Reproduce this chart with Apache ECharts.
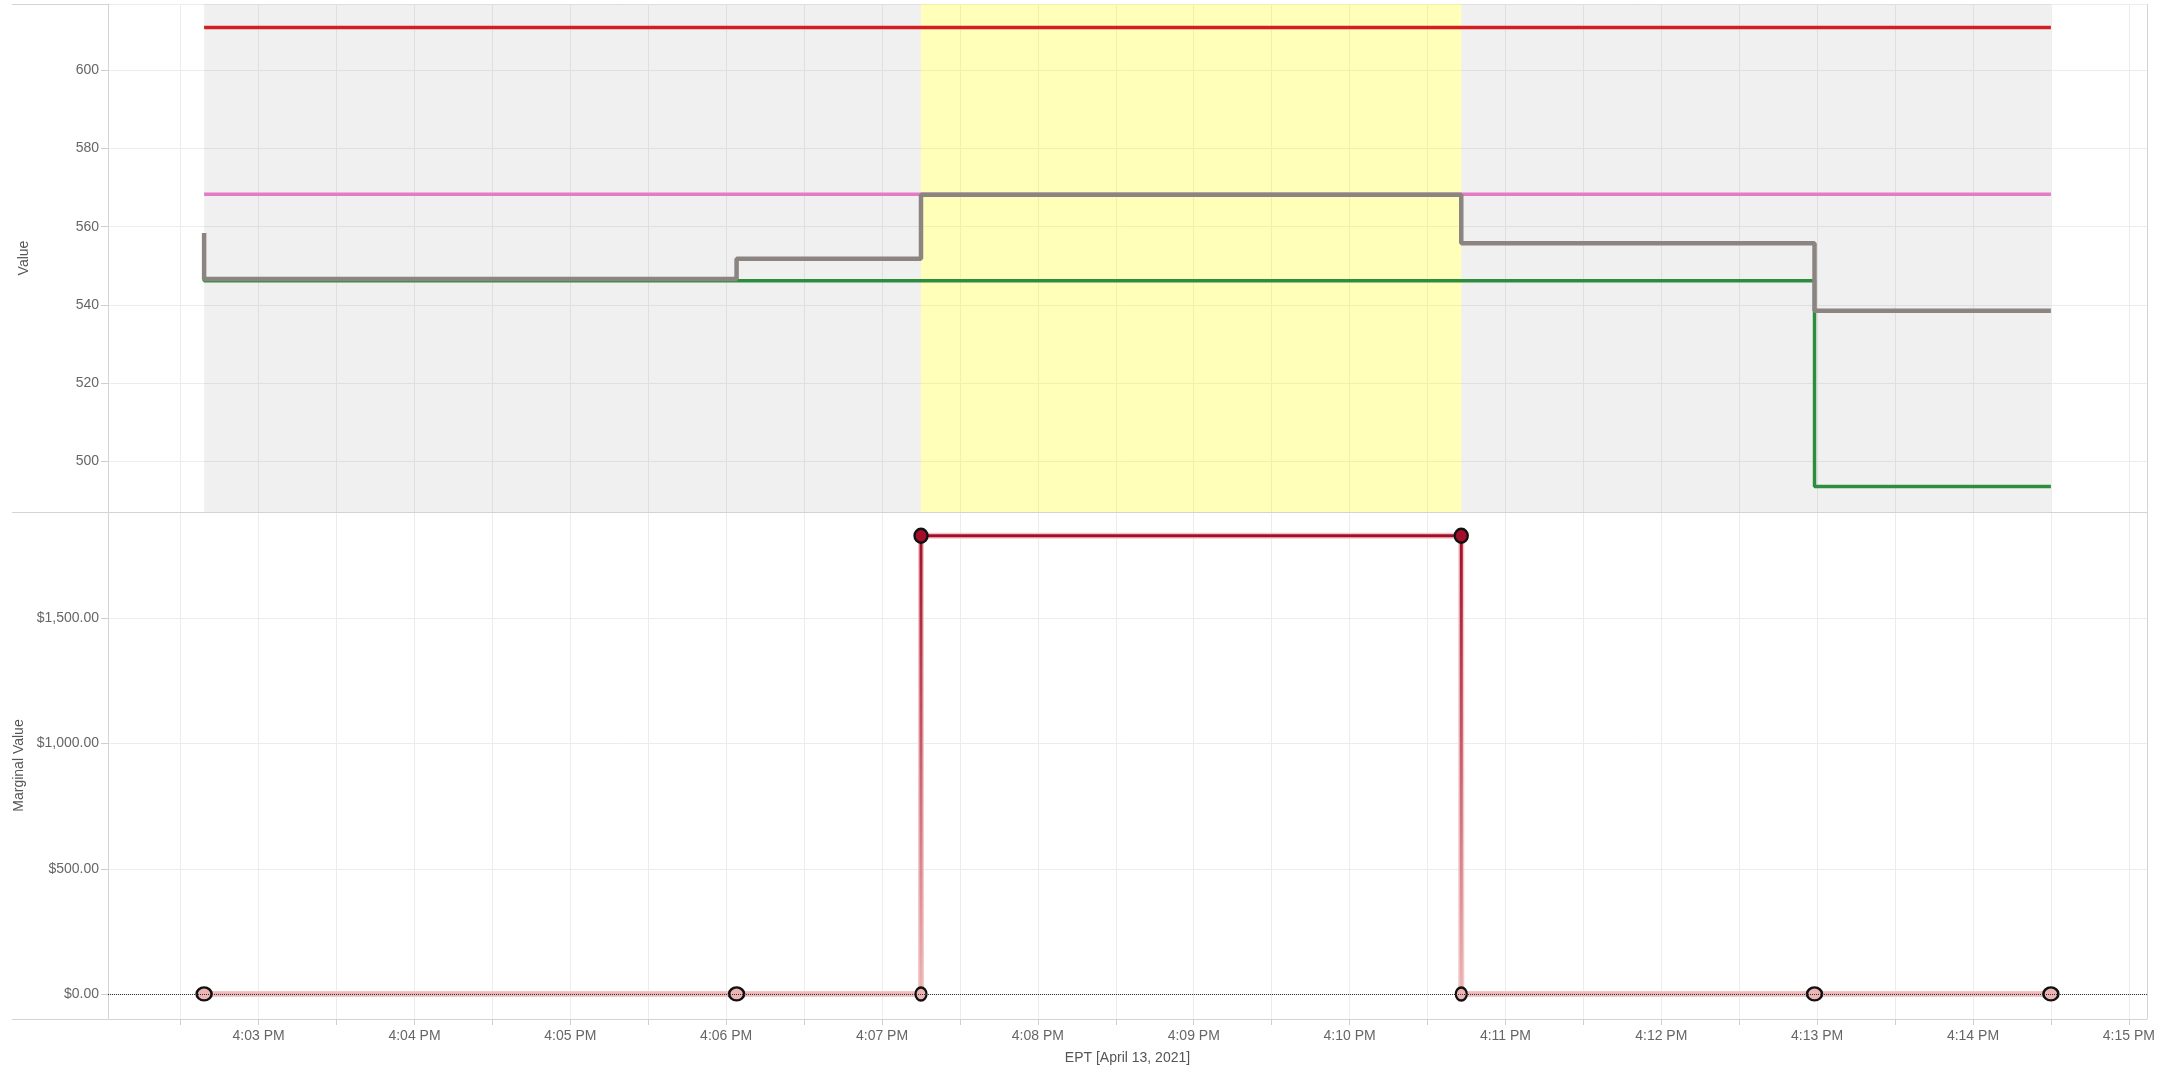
<!DOCTYPE html>
<html><head><meta charset="utf-8">
<script src="https://cdn.jsdelivr.net/npm/echarts@6/dist/echarts.min.js"></script>
<style>html,body{margin:0;padding:0;background:#fff}#c{width:2159px;height:1070px}</style>
</head><body><div id="c"></div>
<script>
// ---------- data ----------
const DAY = '2021-04-13 ';
const times = ['16:02:39', '16:06:04', '16:07:15', '16:10:43', '16:12:59', '16:14:30'];
const xRange = ['16:02:02', '16:15:07'];
const upperLimit = [611, 611, 611, 611, 611, 611];
const targetLevel = [568.3, 568.3, 568.3, 568.3, 568.3, 568.3];
const greenValues = [551.9, 546.2, 546.2, 546.2, 546.2, 493.5];
const grayValues = [558.4, 546.6, 551.8, 568.2, 555.8, 538.5];
const mvTimes = ['16:02:39', '16:06:04', '16:07:15', '16:07:15', '16:10:43', '16:10:43', '16:12:59', '16:14:30'];
const mvValues = [0, 0, 0, 1830, 1830, 0, 0, 0];
const valueRange = [487, 617];
const mvRange = [-100, 1925];
const xTickTimes = ['16:02:30', '16:03:00', '16:03:30', '16:04:00', '16:04:30', '16:05:00', '16:05:30',
  '16:06:00', '16:06:30', '16:07:00', '16:07:30', '16:08:00', '16:08:30', '16:09:00', '16:09:30',
  '16:10:00', '16:10:30', '16:11:00', '16:11:30', '16:12:00', '16:12:30', '16:13:00', '16:13:30',
  '16:14:00', '16:14:30', '16:15:00'];
const xLabelTimes = ['16:03:00', '16:04:00', '16:05:00', '16:06:00', '16:07:00', '16:08:00', '16:09:00',
  '16:10:00', '16:11:00', '16:12:00', '16:13:00', '16:14:00', '16:15:00'];
const xAxisTitle = 'EPT [April 13, 2021]';
const topTitle = 'Value';
const bottomTitle = 'Marginal Value';

// ---------- helpers ----------
const T = s => +echarts.number.parseDate(DAY + s);
const pairs = (ts, vs) => ts.map((t, i) => [T(t), vs[i]]);
const FONT = "'Liberation Sans', Arial, sans-serif";
const GL = 108, GRr = 12, TOP1 = 4, H1 = 508, TOP2 = 512, H2 = 507;
const RIGHT_X = 2159 - GRr;

function timeLabel(v) {
  const d = new Date(v);
  if (d.getSeconds() !== 0 || d.getMilliseconds() !== 0) return '';
  const h = d.getHours() % 12 || 12;
  const m = String(d.getMinutes()).padStart(2, '0');
  return h + ':' + m + ' ' + (d.getHours() < 12 ? 'AM' : 'PM');
}
function money(v) {
  return '$' + v.toFixed(2).replace(/\B(?=(\d{3})+(?!\d))/g, ',');
}

const gridLineColor = '#ececec';
const axisLineColor = '#d4d4d4';
const tickVals = xTickTimes.map(T);
const labelVals = xLabelTimes.map(T);

function xAxisBase(gridIndex, showLabels) {
  return {
    type: 'value', gridIndex, scale: true,
    min: T(xRange[0]), max: T(xRange[1]),
    splitLine: { show: true, lineStyle: { color: gridLineColor, width: 1 }, customValues: tickVals },
    axisLine: { show: true, onZero: false, lineStyle: { color: axisLineColor, width: 1 } },
    axisTick: { show: true, length: showLabels ? 6 : 0, lineStyle: { color: '#cfcfcf' }, customValues: tickVals },
    axisLabel: {
      show: showLabels, formatter: timeLabel, color: '#666', fontSize: 14,
      fontFamily: FONT, margin: 10, customValues: labelVals
    },
    name: showLabels ? xAxisTitle : '',
    nameLocation: 'middle', nameGap: 32,
    nameTextStyle: { color: '#555', fontSize: 14, fontFamily: FONT }
  };
}

const option = {
  animation: false,
  backgroundColor: '#fff',
  grid: [
    { left: GL, right: GRr, top: TOP1, height: H1 },
    { left: GL, right: GRr, top: TOP2, height: H2 }
  ],
  xAxis: [xAxisBase(0, false), xAxisBase(1, true)],
  yAxis: [
    {
      type: 'value', gridIndex: 0, min: valueRange[0], max: valueRange[1], splitNumber: 6,
      name: topTitle, nameLocation: 'middle', nameGap: 77,
      nameTextStyle: { color: '#555', fontSize: 14, fontFamily: FONT },
      axisLine: { show: true, lineStyle: { color: axisLineColor } },
      axisTick: { show: true, length: 7, lineStyle: { color: '#cfcfcf' } },
      axisLabel: { showMinLabel: false, showMaxLabel: false, color: '#666', fontSize: 14, fontFamily: FONT, margin: 9 },
      splitLine: { lineStyle: { color: gridLineColor } }
    },
    {
      type: 'value', gridIndex: 1, min: mvRange[0], max: mvRange[1], splitNumber: 4,
      name: bottomTitle, nameLocation: 'middle', nameGap: 77,
      nameTextStyle: { color: '#555', fontSize: 14, fontFamily: FONT },
      axisLine: { show: true, lineStyle: { color: axisLineColor } },
      axisTick: { show: true, length: 7, lineStyle: { color: '#cfcfcf' } },
      axisLabel: { showMinLabel: false, showMaxLabel: false, color: '#666', fontSize: 14, fontFamily: FONT, margin: 9, formatter: money },
      splitLine: { lineStyle: { color: gridLineColor } }
    }
  ],
  visualMap: {
    type: 'continuous', show: false, seriesIndex: 7, dimension: 1,
    min: 0, max: Math.max(...mvValues),
    inRange: { color: ['#edb4b4', '#a30e2a'] }
  },
  graphic: [
    { type: 'line', silent: true, shape: { x1: 12, y1: TOP1 + 0.5, x2: RIGHT_X, y2: TOP1 + 0.5 }, style: { stroke: axisLineColor, lineWidth: 1 } },
    { type: 'line', silent: true, shape: { x1: 12, y1: TOP2 + 0.5, x2: GL, y2: TOP2 + 0.5 }, style: { stroke: axisLineColor, lineWidth: 1 } },
    { type: 'line', silent: true, shape: { x1: 12, y1: TOP2 + H2 + 0.5, x2: GL, y2: TOP2 + H2 + 0.5 }, style: { stroke: axisLineColor, lineWidth: 1 } },
    { type: 'line', silent: true, shape: { x1: RIGHT_X + 0.5, y1: TOP1, x2: RIGHT_X + 0.5, y2: TOP2 + H2 }, style: { stroke: axisLineColor, lineWidth: 1 } }
  ],
  series: [
    { // 0: shaded bands
      type: 'line', xAxisIndex: 0, yAxisIndex: 0, data: [], z: 1, silent: true,
      markArea: {
        silent: true,
        data: [
          [{ xAxis: T(times[0]), itemStyle: { color: 'rgba(120,120,120,0.115)' } }, { xAxis: T(times[2]) }],
          [{ xAxis: T(times[2]), itemStyle: { color: 'rgba(255,255,0,0.27)' } }, { xAxis: T(times[3]) }],
          [{ xAxis: T(times[3]), itemStyle: { color: 'rgba(120,120,120,0.115)' } }, { xAxis: T(times[5]) }]
        ]
      }
    },
    { // 1
      type: 'line', xAxisIndex: 0, yAxisIndex: 0, data: pairs(times, upperLimit),
      symbol: 'none', lineStyle: { color: '#d41f22', width: 3.5 }, z: 2
    },
    { // 2
      type: 'line', xAxisIndex: 0, yAxisIndex: 0, data: pairs(times, targetLevel),
      symbol: 'none', lineStyle: { color: '#e57ac6', width: 3.5 }, z: 2
    },
    { // 3
      type: 'line', xAxisIndex: 0, yAxisIndex: 0, data: pairs(times, greenValues), step: 'start',
      symbol: 'none', lineStyle: { color: '#2e8c3e', width: 3.5 }, z: 3
    },
    { // 4
      type: 'line', xAxisIndex: 0, yAxisIndex: 0, data: pairs(times, grayValues), step: 'start',
      symbol: 'none', lineStyle: { color: '#8b8480', width: 4.5 }, z: 4
    },
    { // 5: zero reference line
      type: 'line', xAxisIndex: 1, yAxisIndex: 1, data: [], z: 1, silent: true,
      markLine: {
        silent: true, symbol: 'none', label: { show: false },
        lineStyle: { type: 'dotted', color: '#333', width: 1 },
        data: [{ yAxis: 0 }]
      }
    },
    { // 6: underlay
      type: 'line', xAxisIndex: 1, yAxisIndex: 1, data: pairs(mvTimes, mvValues),
      symbol: 'none', lineStyle: { color: '#f2c8c8', width: 6 }, z: 2
    },
    { // 7: marginal value
      type: 'line', xAxisIndex: 1, yAxisIndex: 1, data: pairs(mvTimes, mvValues),
      showAllSymbol: true, symbol: 'circle',
      symbolSize: function (val, params) {
        const i = params.dataIndex;
        if (val[1] > 0) return [13, 14];
        const isJump = mvTimes[i] === mvTimes[i - 1] || mvTimes[i] === mvTimes[i + 1];
        return isJump ? [11, 13] : [15, 13];
      },
      itemStyle: { borderColor: '#111', borderWidth: 2.4 },
      lineStyle: { width: 3 }, z: 3
    }
  ]
};

const chart = echarts.init(document.getElementById('c'));
chart.setOption(option);
</script>
</body></html>
